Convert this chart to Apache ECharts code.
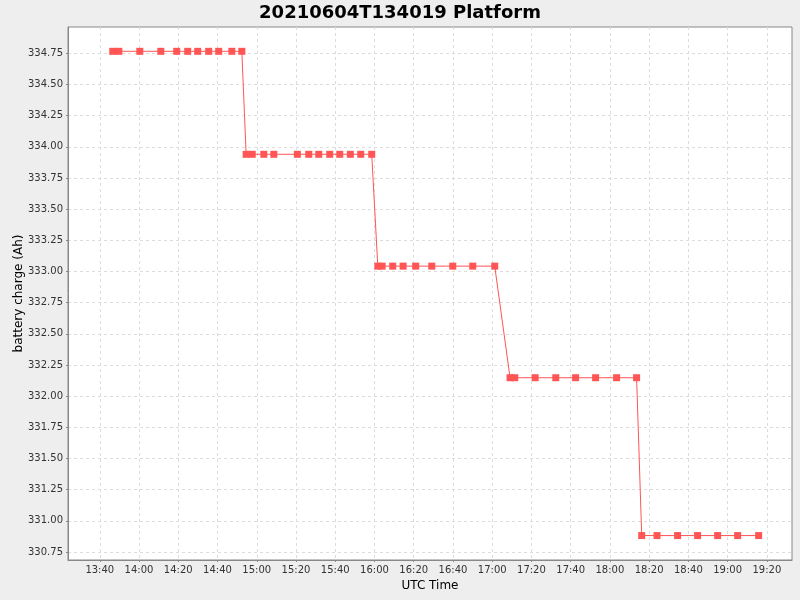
<!DOCTYPE html>
<html>
<head>
<meta charset="utf-8">
<script src="https://cdn.jsdelivr.net/npm/echarts@6/dist/echarts.min.js"></script>
<style>
  html, body { margin: 0; padding: 0; background: #eeeeee; }
  #main { width: 800px; height: 600px; }
</style>
</head>
<body>
<div id="main"></div>
<script>
// 数据: 测量时间 (UTC) 和电池电量
var times = [
  '13:46:36', '13:49:42', '14:00:24', '14:11:06', '14:19:12', '14:24:48',
  '14:29:54', '14:35:30', '14:40:36', '14:47:18', '14:52:24',
  '14:54:36', '14:57:42', '15:03:36', '15:08:42', '15:20:42', '15:26:30',
  '15:31:36', '15:37:12', '15:42:18', '15:47:42', '15:53:00', '15:58:36',
  '16:01:42', '16:03:54', '16:09:18', '16:14:36', '16:21:00', '16:29:12',
  '16:39:54', '16:50:06', '17:01:18',
  '17:09:06', '17:11:30', '17:21:54', '17:32:24', '17:42:30', '17:52:42',
  '18:03:24', '18:13:36',
  '18:16:12', '18:24:00', '18:34:30', '18:44:42', '18:54:54', '19:05:06',
  '19:15:48'
];
var charge = [
  334.766, 334.766, 334.766, 334.766, 334.766, 334.766,
  334.766, 334.766, 334.766, 334.766, 334.766,
  333.94, 333.94, 333.94, 333.94, 333.94, 333.94,
  333.94, 333.94, 333.94, 333.94, 333.94, 333.94,
  333.043, 333.043, 333.043, 333.043, 333.043, 333.043,
  333.043, 333.043, 333.043,
  332.148, 332.148, 332.148, 332.148, 332.148, 332.148,
  332.148, 332.148,
  330.882, 330.882, 330.882, 330.882, 330.882, 330.882,
  330.882
];
// 坐标轴刻度
var xTicks = ['13:40', '14:00', '14:20', '14:40', '15:00', '15:20', '15:40',
  '16:00', '16:20', '16:40', '17:00', '17:20', '17:40', '18:00', '18:20',
  '18:40', '19:00', '19:20'];
var yTicks = [330.75, 331.00, 331.25, 331.50, 331.75, 332.00, 332.25, 332.50,
  332.75, 333.00, 333.25, 333.50, 333.75, 334.00, 334.25, 334.50, 334.75];
var xRange = ['13:23:48', '19:32:48'];
var yRange = [330.686, 334.961];

// 时间字符串 -> 分钟
function toMin(s) {
  var p = s.split(':');
  return (+p[0]) * 60 + (+p[1]) + (p[2] ? (+p[2]) / 60 : 0);
}
function pad(n) { return n < 10 ? '0' + n : '' + n; }

var points = [];
for (var i = 0; i < times.length; i++) {
  points.push([toMin(times[i]), charge[i]]);
}
var xTickVals = xTicks.map(toMin);

var myChart = echarts.init(document.getElementById('main'));
var font = 'DejaVu Sans';
var option = {
  backgroundColor: '#eeeeee',
  animation: false,
  title: {
    text: '20210604T134019 Platform',
    left: 'center',
    top: -1,
    textStyle: { fontFamily: font, fontSize: 18, fontWeight: 'bold', color: '#000' }
  },
  grid: {
    left: 68, top: 27, width: 724, height: 533,
    outerBoundsMode: 'none',
    containLabel: false,
    show: true, backgroundColor: '#ffffff', borderColor: '#888888', borderWidth: 1
  },
  xAxis: {
    type: 'value',
    min: toMin(xRange[0]),
    max: toMin(xRange[1]),
    name: 'UTC Time',
    nameLocation: 'middle',
    nameGap: 20,
    nameMoveOverlap: false,
    nameTextStyle: { fontFamily: font, fontSize: 12, color: '#000' },
    axisLine: { show: true, lineStyle: { color: '#888888' } },
    axisTick: { show: true, length: 2, customValues: xTickVals, lineStyle: { color: '#888888' } },
    axisLabel: {
      customValues: xTickVals,
      fontFamily: font, fontSize: 10, color: '#333', margin: 5,
      formatter: function (v) {
        var m = Math.round(v);
        return pad(Math.floor(m / 60)) + ':' + pad(m % 60);
      }
    },
    splitLine: { show: true, lineStyle: { color: '#dddddd', type: [3, 3] } }
  },
  yAxis: {
    type: 'value',
    min: yRange[0],
    max: yRange[1],
    name: 'battery charge (Ah)',
    nameLocation: 'middle',
    nameRotate: 90,
    nameGap: 43,
    nameMoveOverlap: false,
    nameTextStyle: { fontFamily: font, fontSize: 12, color: '#000' },
    axisLine: { show: true, lineStyle: { color: '#888888' } },
    axisTick: { show: true, length: 2, customValues: yTicks, lineStyle: { color: '#888888' } },
    axisLabel: {
      customValues: yTicks,
      fontFamily: font, fontSize: 10, color: '#333', margin: 5,
      formatter: function (v) { return v.toFixed(2); }
    },
    splitLine: { show: true, lineStyle: { color: '#dddddd', type: [3, 3] } }
  },
  series: [{
    type: 'line',
    data: points,
    symbol: 'rect',
    symbolSize: 7,
    showAllSymbol: true,
    lineStyle: { color: '#ff5555', width: 1 },
    itemStyle: { color: '#ff5555' }
  }]
};
myChart.setOption(option);
</script>
</body>
</html>
